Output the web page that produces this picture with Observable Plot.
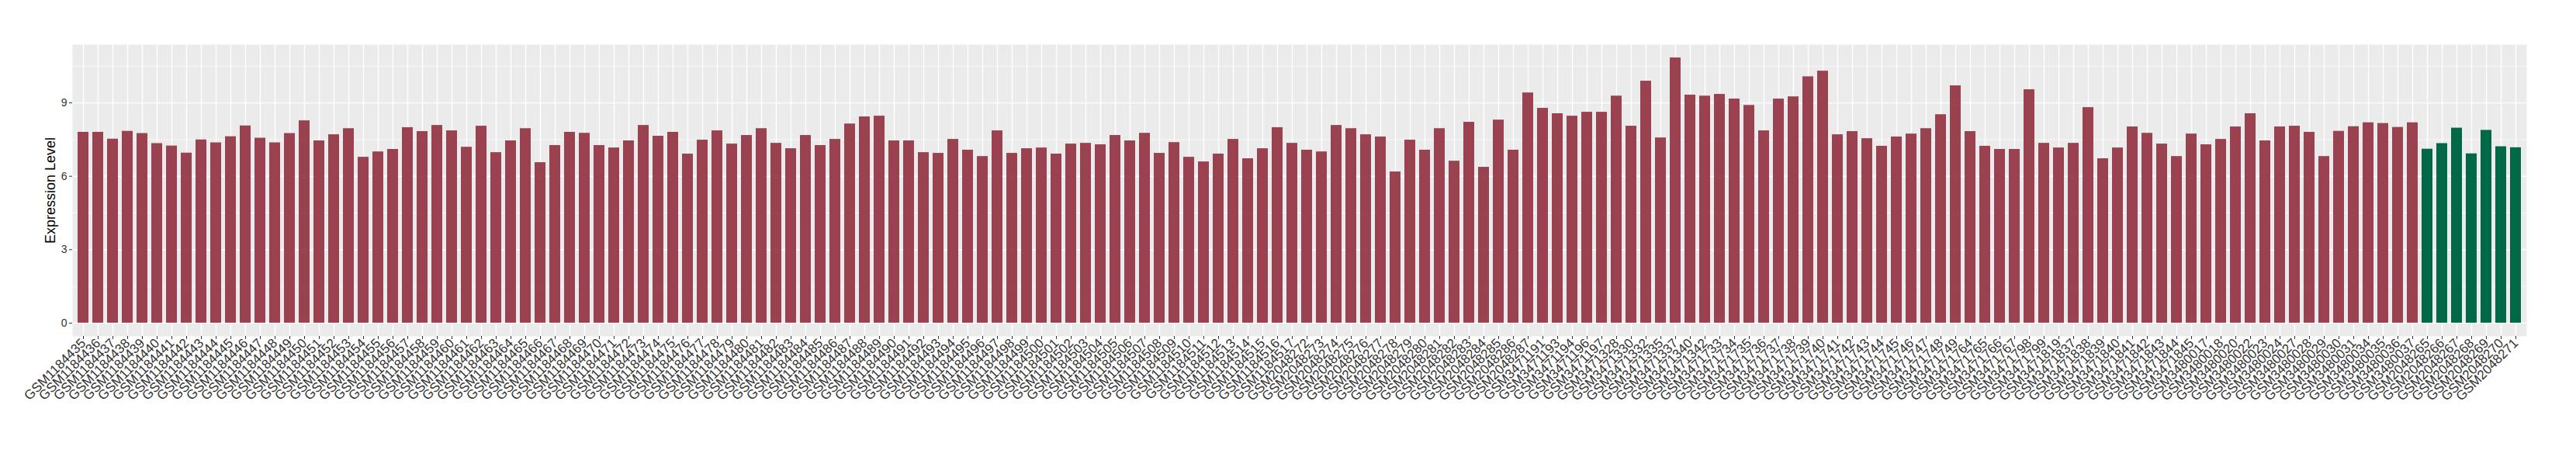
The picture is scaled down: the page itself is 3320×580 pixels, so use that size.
<!DOCTYPE html>
<html>
<head>
<meta charset="utf-8">
<script src="https://cdn.jsdelivr.net/npm/d3@7"></script>
<script src="https://cdn.jsdelivr.net/npm/@observablehq/plot@0.6"></script>
<style>
  html, body { margin: 0; padding: 0; background: #ffffff; }
  #chart { width: 3320px; height: 580px; }
</style>
</head>
<body>
<div id="chart"></div>
<script>
const samples = [
  "GSM1184435","GSM1184436","GSM1184437","GSM1184438","GSM1184439","GSM1184440","GSM1184441","GSM1184442","GSM1184443","GSM1184444",
  "GSM1184445","GSM1184446","GSM1184447","GSM1184448","GSM1184449","GSM1184450","GSM1184451","GSM1184452","GSM1184453","GSM1184454",
  "GSM1184455","GSM1184456","GSM1184457","GSM1184458","GSM1184459","GSM1184460","GSM1184461","GSM1184462","GSM1184463","GSM1184464",
  "GSM1184465","GSM1184466","GSM1184467","GSM1184468","GSM1184469","GSM1184470","GSM1184471","GSM1184472","GSM1184473","GSM1184474",
  "GSM1184475","GSM1184476","GSM1184477","GSM1184478","GSM1184479","GSM1184480","GSM1184481","GSM1184482","GSM1184483","GSM1184484",
  "GSM1184485","GSM1184486","GSM1184487","GSM1184488","GSM1184489","GSM1184490","GSM1184491","GSM1184492","GSM1184493","GSM1184494",
  "GSM1184495","GSM1184496","GSM1184497","GSM1184498","GSM1184499","GSM1184500","GSM1184501","GSM1184502","GSM1184503","GSM1184504",
  "GSM1184505","GSM1184506","GSM1184507","GSM1184508","GSM1184509","GSM1184510","GSM1184511","GSM1184512","GSM1184513","GSM1184514",
  "GSM1184515","GSM1184516","GSM1184517",
  "GSM2048272","GSM2048273","GSM2048274","GSM2048275","GSM2048276","GSM2048277","GSM2048278","GSM2048279","GSM2048280","GSM2048281",
  "GSM2048282","GSM2048283","GSM2048284","GSM2048285","GSM2048286","GSM2048287",
  "GSM3471191","GSM3471193","GSM3471194","GSM3471196","GSM3471197",
  "GSM3471328","GSM3471330","GSM3471332","GSM3471335","GSM3471337","GSM3471340","GSM3471342",
  "GSM3471733","GSM3471734","GSM3471735","GSM3471736","GSM3471737","GSM3471738","GSM3471739","GSM3471740","GSM3471741","GSM3471742",
  "GSM3471743","GSM3471744","GSM3471745","GSM3471746","GSM3471747","GSM3471748","GSM3471749",
  "GSM3471764","GSM3471765","GSM3471766","GSM3471767",
  "GSM3471798","GSM3471799","GSM3471819",
  "GSM3471837","GSM3471838","GSM3471839","GSM3471840","GSM3471841","GSM3471842","GSM3471843","GSM3471844","GSM3471845",
  "GSM3480017","GSM3480018","GSM3480020","GSM3480022","GSM3480023","GSM3480024","GSM3480027","GSM3480028","GSM3480029","GSM3480030",
  "GSM3480031","GSM3480034","GSM3480035","GSM3480036","GSM3480037",
  "GSM2048265","GSM2048266","GSM2048267","GSM2048268","GSM2048269","GSM2048270","GSM2048271"
];

const values = [
  7.80,7.80,7.52,7.84,7.75,7.34,7.24,6.95,7.49,7.37,
  7.62,8.06,7.56,7.37,7.75,8.27,7.45,7.70,7.95,6.78,
  7.00,7.10,7.99,7.83,8.08,7.86,7.19,8.05,6.97,7.45,
  7.95,6.56,7.26,7.80,7.76,7.26,7.16,7.45,8.08,7.64,
  7.80,6.91,7.48,7.86,7.32,7.67,7.95,7.35,7.13,7.67,
  7.26,7.51,8.14,8.43,8.46,7.45,7.45,6.97,6.94,7.51,
  7.07,6.81,7.86,6.94,7.13,7.16,6.91,7.32,7.35,7.29,
  7.67,7.45,7.76,6.94,7.38,6.78,6.59,6.91,7.51,6.72,
  7.13,7.99,7.35,
  7.07,7.00,8.08,7.95,7.70,7.61,6.18,7.48,7.07,7.95,
  6.62,8.21,6.37,8.30,7.07,9.41,
  8.78,8.56,8.46,8.62,8.62,
  9.28,8.05,9.89,7.57,10.84,9.32,9.28,
  9.35,9.16,8.90,7.86,9.16,9.25,10.07,10.30,7.70,7.83,
  7.54,7.23,7.61,7.73,7.95,8.52,9.70,
  7.83,7.23,7.10,7.10,
  9.54,7.35,7.16,
  7.35,8.81,6.72,7.16,8.02,7.76,7.32,6.81,7.73,
  7.29,7.51,8.02,8.56,7.45,8.02,8.05,7.80,6.81,7.84,
  8.03,8.19,8.16,8.00,8.19,
  7.11,7.34,7.97,6.92,7.88,7.21,7.17
];

// samples drawn in the second (green) colour
const normalSamples = ["GSM2048265","GSM2048266","GSM2048267","GSM2048268","GSM2048269","GSM2048270","GSM2048271"];
const groupNames = ["Disease", "Normal"];
const groupColors = ["#9A4250", "#006847"];
const yMajorTicks = [0, 3, 6, 9];
const yMinorTicks = [1.5, 4.5, 7.5, 10.5];
const yTitle = "Expression Level";

const data = samples.map((s, i) => ({
  sample: s,
  value: values[i],
  group: normalSamples.includes(s) ? groupNames[1] : groupNames[0]
}));

const vmax = d3.max(values);
const pad = vmax * 0.05;

const chart = Plot.plot({
  width: 3320,
  height: 580,
  marginLeft: 93,
  marginRight: 64,
  marginTop: 57,
  marginBottom: 147,
  style: { fontFamily: "'Liberation Sans', Arial, sans-serif", background: "#ffffff", overflow: "visible" },
  x: { type: "band", domain: samples, paddingInner: 0.27, paddingOuter: 0.235, label: null },
  y: { domain: [-pad, vmax + pad], label: null },
  color: { domain: groupNames, range: groupColors },
  marks: [
    Plot.frame({ fill: "#EBEBEB", stroke: "none" }),
    Plot.ruleY(yMinorTicks, { stroke: "#ffffff", strokeWidth: 0.7 }),
    Plot.gridY(yMajorTicks, { stroke: "#ffffff", strokeOpacity: 1, strokeWidth: 1.4 }),
    Plot.gridX({ stroke: "#ffffff", strokeOpacity: 1, strokeWidth: 1.4 }),
    Plot.barY(data, { x: "sample", y: "value", fill: "group" }),
    Plot.axisY(yMajorTicks, { tickSize: 4, tickPadding: 3, fontSize: 14, color: "#333333", label: null }),
    Plot.axisX({ tickSize: 4, tickPadding: 2, tickRotate: -45, fontSize: 17, color: "#333333", label: null }),
    Plot.text([yTitle], { frameAnchor: "left", textAnchor: "middle", dx: -28, rotate: -90, fontSize: 18, fill: "#000000", text: d => d })
  ]
});

document.getElementById("chart").appendChild(chart);
</script>
</body>
</html>
